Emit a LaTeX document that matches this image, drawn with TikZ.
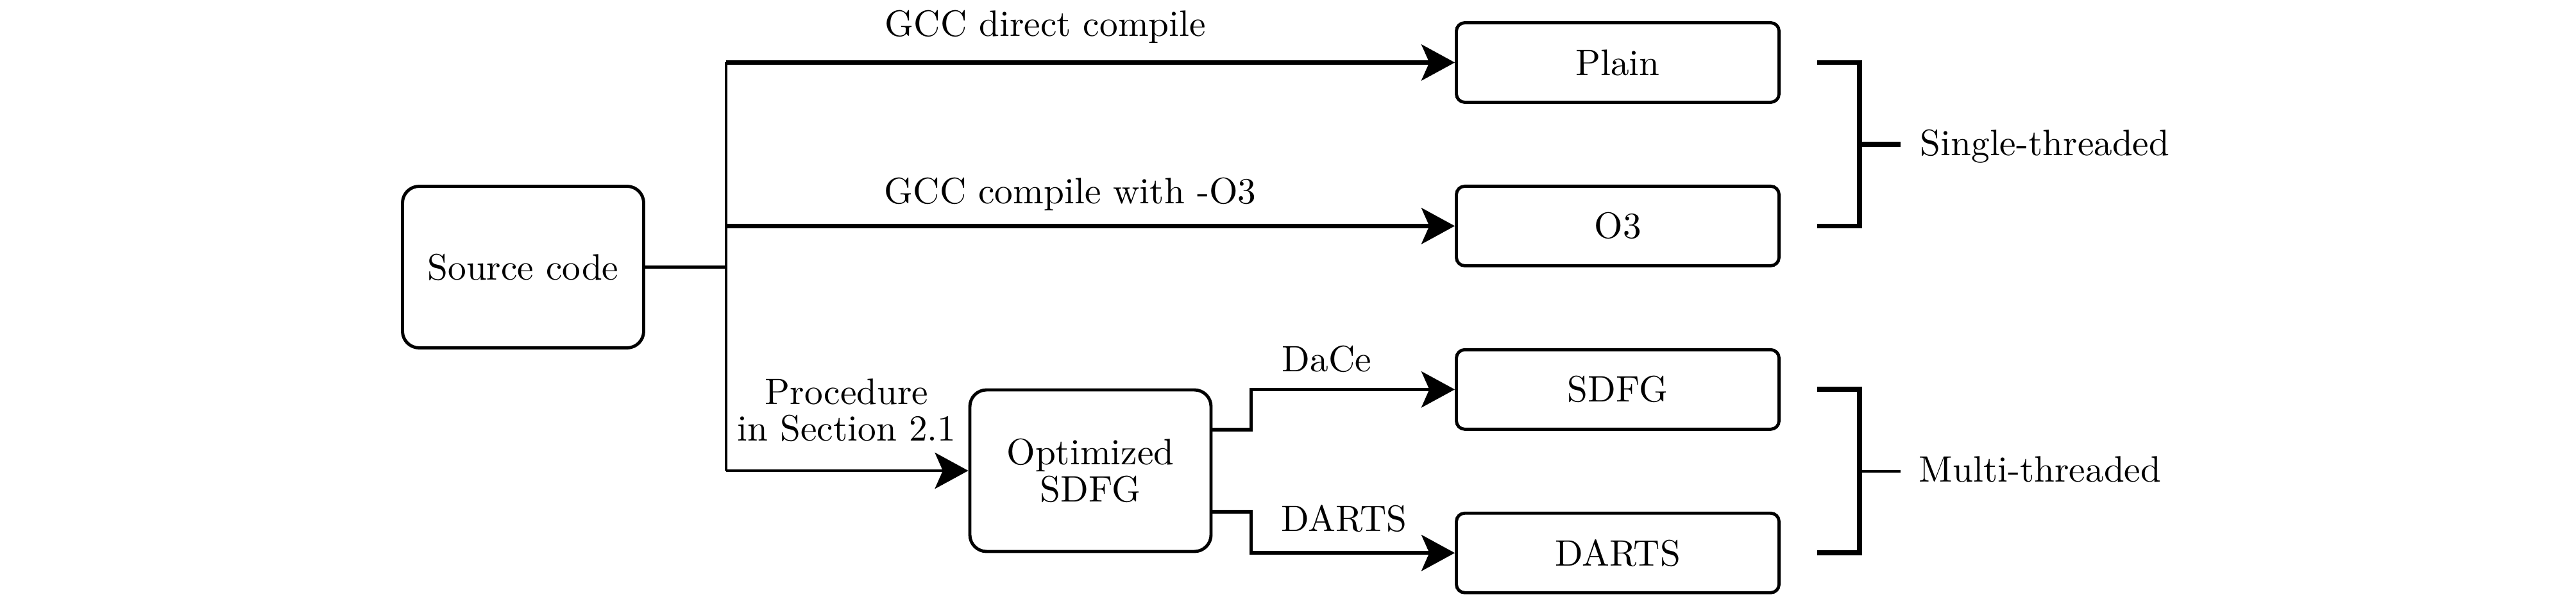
\documentclass[tikz,border=0pt]{standalone}
\usepackage{fontspec}
\setmainfont{lmroman10-regular}[Extension=.otf]
\usetikzlibrary{positioning,arrows.meta,calc}

\tikzset{
  box/.style={draw, line width=1.4pt, rounded corners=0.13cm, minimum width=5.03cm, minimum height=1.24cm, inner sep=0pt},
  bigbox/.style={draw, line width=1.4pt, rounded corners=0.26cm, minimum width=3.76cm, minimum height=2.52cm, inner sep=0pt, align=center},
  lbl/.style={inner sep=0pt},
  arrow/.style={-{Stealth[length=14.8pt,width=16pt,inset=3.5pt]}, line width=1.85pt},
  bracket/.style={line width=2.2pt},
}

\begin{document}
\begin{tikzpicture}[font=\fontsize{16.3}{16.3}\selectfont, node distance=1.26cm]
			\useasboundingbox (0,0) rectangle (40.16,-9.45);

			\node (src) [bigbox] at (8.155,-4.165) {Source code};
			\node (opt) [bigbox] at (17.0,-7.34) {Optimized\\SDFG};
			\node (plain) [box] at (25.22,-0.975) {Plain};
			\node (othree) [box, below=of plain] {O3};
			\node (sdfg) [box, below=of othree] {SDFG};
			\node (darts) [box, below=of sdfg] {DARTS};

			\coordinate (split) at (11.32,-4.165);

			\node (gcc) [lbl, anchor=base west] at (13.79,-0.57) {GCC direct compile};
			\node (gcco3) [lbl, anchor=base west] at (13.78,-3.18) {GCC compile with -O3};
			\node (proc) [lbl, align=center] at (13.2,-6.40) {Procedure\\in Section 2.1};
			\node (dace) [lbl, anchor=base west] at (19.98,-5.80) {DaCe};
			\node (dartslbl) [lbl, anchor=base west] at (19.97,-8.28) {DARTS};
			\node (single) [lbl, anchor=base west] at (29.93,-2.43) {Single-threaded};
			\node (multi) [lbl, anchor=base west] at (29.91,-7.52) {Multi-threaded};

			\draw[line width=1.4pt] (src.east) -- (split);
			\draw[line width=1pt] (split |- plain) -- (split |- opt);

			\path[arrow]
			  (split |- plain) edge (plain.west)
			  (split |- othree) edge (othree.west);
			\path[arrow, line width=1.4pt]
			  (split |- opt) edge (opt.west);

			\draw[arrow, line width=1.6pt] ([yshift=6.4mm]opt.east) -- ++(0.6,0) |- (sdfg.west);
			\draw[arrow, line width=1.6pt] ([yshift=-6.4mm]opt.east) -- ++(0.6,0) |- (darts.west);

			\draw[bracket] ([xshift=5.7mm]plain.east) -| ([xshift=12.3mm]othree.east) -- ([xshift=5.7mm]othree.east);
			\draw[bracket] ($(plain.east)!0.5!(othree.east)+(12.3mm,0)$) -- ++(0.64,0);
			\draw[bracket] ([xshift=5.7mm]sdfg.east) -| ([xshift=12.3mm]darts.east) -- ([xshift=5.7mm]darts.east);
			\draw[line width=1.2pt] ($(sdfg.east)!0.5!(darts.east)+(12.3mm,0)$) -- ++(0.64,0);

		  \end{tikzpicture}
\end{document}
